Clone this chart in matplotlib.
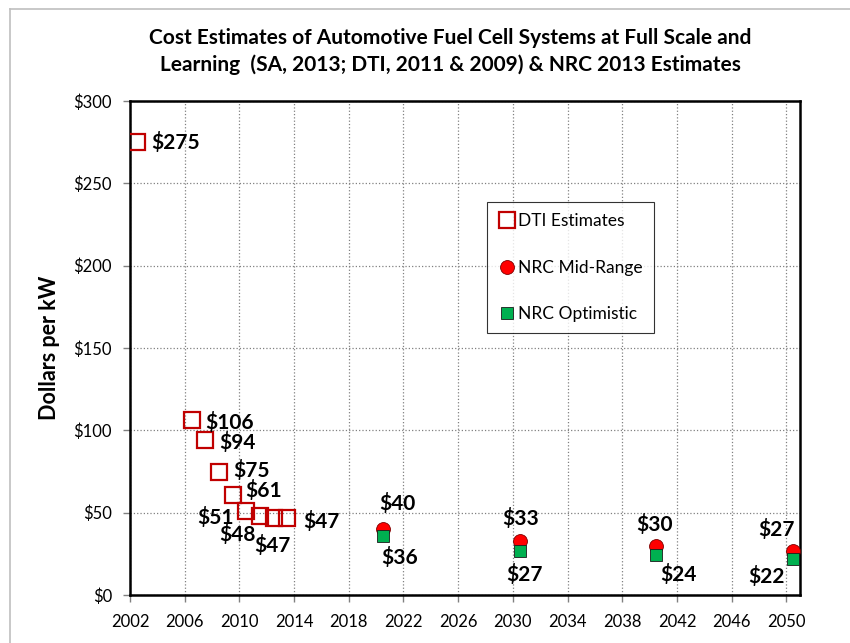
import matplotlib.pyplot as plt
from matplotlib.lines import Line2D

plt.rcParams['font.family'] = ['Lato', 'DejaVu Sans']

# DTI estimates
dti_years = [2002.5, 2006.5, 2007.5, 2008.5, 2009.5, 2010.5, 2011.5, 2012.5, 2013.5]
dti_cost = [275, 106, 94, 75, 61, 51, 48, 47, 47]
# NRC 2013 estimates
nrc_years = [2020.5, 2030.5, 2040.5, 2050.5]
nrc_mid = [40, 33, 30, 27]
nrc_opt = [36, 27, 24, 22]

# label offsets in pixels (dx, dy, ha)
dti_offsets = [(14, 0, 'left'), (14, -2, 'left'), (14, -2, 'left'), (14, 1, 'left'),
               (13, 4, 'left'), (-12, -6, 'right'), (-22, -19, 'center'),
               (-1, -28, 'center'), (16, -4, 'left')]
mid_offsets = [(14, 26), (1, 22), (-2, 21), (-17, 21)]
opt_offsets = [(17, -22), (5, -24), (22, -19), (-27, -18)]

fig = plt.figure(figsize=(8.5, 6.43), dpi=100)
ax = fig.add_axes([130/850, 1-595/643, 670/850, 494/643])

# light grey chart-area border (top and left)
fig.add_artist(Line2D([10/850, 1], [1-9/643, 1-9/643], color='#BFBFBF', lw=1.2, transform=fig.transFigure))
fig.add_artist(Line2D([10/850, 10/850], [0, 1-9/643], color='#BFBFBF', lw=1.2, transform=fig.transFigure))

red = '#C00000'
ax.plot(dti_years, dti_cost, 's', ms=11, mfc='none', mec=red, mew=1.6, ls='none',
        label='DTI Estimates', zorder=3)
ax.plot(nrc_years, nrc_mid, 'o', ms=10, mfc='#FF0000', mec='#7F0000', mew=0.6, ls='none',
        label='NRC Mid-Range', zorder=3)
ax.plot(nrc_years, nrc_opt, 's', ms=8, mfc='#00B050', mec='#1a1a1a', mew=0.6, ls='none',
        label='NRC Optimistic', zorder=4)

lab = dict(textcoords='offset pixels', fontsize=15, fontweight='bold', va='center')
for x, v, (dx, dy, ha) in zip(dti_years, dti_cost, dti_offsets):
    ax.annotate('$%d' % v, (x, v), xytext=(dx, dy), ha=ha, **lab)
for x, v, (dx, dy) in zip(nrc_years, nrc_mid, mid_offsets):
    ax.annotate('$%d' % v, (x, v), xytext=(dx, dy), ha='center', **lab)
for x, v, (dx, dy) in zip(nrc_years, nrc_opt, opt_offsets):
    ax.annotate('$%d' % v, (x, v), xytext=(dx, dy), ha='center', **lab)

ax.set_xlim(2002, 2051)
ax.set_ylim(0, 300)
ax.set_xticks(range(2002, 2051, 4))
ax.set_yticks(range(0, 301, 50))
ax.set_yticklabels(['$%d' % v for v in range(0, 301, 50)])
ax.tick_params(labelsize=12, color='#808080', length=5, width=1)
ax.tick_params(axis='x', pad=9)
ax.tick_params(axis='y', pad=8)
ax.grid(True, ls=':', color='#808080', lw=0.9)
ax.set_axisbelow(True)
for s in ax.spines.values():
    s.set_linewidth(1.8)
    s.set_color('black')

ax.set_ylabel('Dollars per kW', fontsize=15.5, fontweight='bold', labelpad=10)

fig.text(450/850, 1-38/643, 'Cost Estimates of Automotive Fuel Cell Systems at Full Scale and',
         ha='center', va='center', fontsize=15, fontweight='bold')
fig.text(450/850, 1-65/643, 'Learning  (SA, 2013; DTI, 2011 & 2009) & NRC 2013 Estimates',
         ha='center', va='center', fontsize=15, fontweight='bold')

leg = ax.legend(loc='upper left', bbox_to_anchor=((487-130)/670, (595-202)/494),
                fontsize=12.5, frameon=True, fancybox=False, edgecolor='black',
                labelspacing=1.75, handletextpad=0.15, handlelength=1.0,
                borderpad=0.65, borderaxespad=0)
leg.get_frame().set_linewidth(0.8)

fig.savefig('out.png', dpi=100, facecolor='white')
